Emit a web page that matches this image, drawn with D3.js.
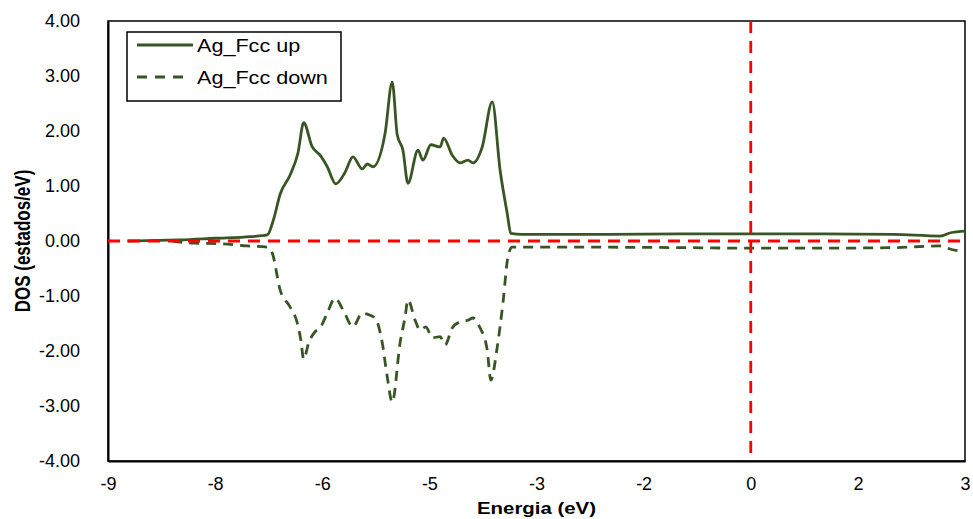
<!DOCTYPE html>
<html>
<head>
<meta charset="utf-8">
<script src="https://cdn.jsdelivr.net/npm/d3@7"></script>
<style>
  body { margin: 0; background: #fff; }
  text { font-family: "Liberation Sans", Arial, sans-serif; fill: #000; }
</style>
</head>
<body>
<div id="chart"></div>
<script>
const FRAME_WIDTH = 973;
const FRAME_HEIGHT = 519;
const MARGINS = {left: 108, right: 8, top: 21, bottom: 58};

const VIS_WIDTH = FRAME_WIDTH - MARGINS.left - MARGINS.right;
const VIS_HEIGHT = FRAME_HEIGHT - MARGINS.top - MARGINS.bottom;

// data
const upEnergy = [-8.73, -8.3, -8.0, -7.5, -7.0, -6.77, -6.68, -6.59, -6.45, -6.34, -6.26, -6.14, -6.03, -5.93, -5.81,
  -5.68, -5.57, -5.44, -5.37, -5.29, -5.12, -5.02, -4.95, -4.87, -4.80, -4.66, -4.59, -4.48, -4.35, -4.30, -4.18,
  -4.07, -3.96, -3.89, -3.76, -3.62, -3.51, -3.41, -3.36, -3.2, -2.0, -1.0, 0, 1.0, 2.0, 2.65, 2.8, 3.0];
const upDos = [0.00, 0.01, 0.02, 0.05, 0.08, 0.11, 0.40, 0.85, 1.20, 1.60, 2.15, 1.71, 1.56, 1.35, 1.04,
  1.25, 1.53, 1.31, 1.40, 1.35, 1.96, 2.89, 1.93, 1.65, 1.05, 1.65, 1.47, 1.75, 1.71, 1.87, 1.56,
  1.42, 1.47, 1.42, 1.71, 2.53, 1.29, 0.50, 0.14, 0.12, 0.12, 0.13, 0.13, 0.13, 0.12, 0.09, 0.15, 0.18];

const downEnergy = [-8.1, -7.8, -7.4, -7.05, -6.77, -6.70, -6.59, -6.45, -6.35, -6.30, -6.26, -6.19, -6.10, -6.03,
  -5.93, -5.82, -5.71, -5.57, -5.44, -5.37, -5.26, -5.16, -5.09, -5.02, -4.91, -4.84, -4.80, -4.70, -4.63,
  -4.55, -4.46, -4.35, -4.28, -4.18, -4.07, -3.96, -3.89, -3.79, -3.69, -3.64, -3.55, -3.47, -3.40, -3.34,
  -3.0, -1.0, 0, 1.0, 2.0, 2.65, 2.8, 3.0];
const downDos = [0.00, -0.04, -0.05, -0.09, -0.11, -0.22, -0.89, -1.20, -1.49, -1.80, -2.15, -1.85, -1.65, -1.58,
  -1.31, -1.04, -1.25, -1.56, -1.31, -1.33, -1.40, -1.85, -2.47, -2.93, -1.85, -1.38, -1.07, -1.44, -1.62,
  -1.56, -1.76, -1.74, -1.89, -1.58, -1.47, -1.44, -1.40, -1.58, -1.98, -2.53, -1.93, -1.13, -0.29, -0.11,
  -0.11, -0.12, -0.13, -0.13, -0.12, -0.09, -0.15, -0.20];

const seriesNames = ["Ag_Fcc up", "Ag_Fcc down"];

const xTicks = [-9, -7.5, -6, -4.5, -3, -1.5, 0, 1.5, 3];
const xTickLabels = ["-9", "-8", "-6", "-5", "-3", "-2", "0", "2", "3"];
const yTicks = [-4, -3, -2, -1, 0, 1, 2, 3, 4];

const GREEN = "#375623";
const RED = "#ff0000";

const FRAME = d3.select("#chart")
  .append("svg")
    .attr("width", FRAME_WIDTH)
    .attr("height", FRAME_HEIGHT);

const X_SCALE = d3.scaleLinear().domain([-9, 3]).range([0, VIS_WIDTH]);
const Y_SCALE = d3.scaleLinear().domain([-4, 4]).range([VIS_HEIGHT, 0]);

const PLOT = FRAME.append("g")
  .attr("transform", "translate(" + MARGINS.left + "," + MARGINS.top + ")");

// plot border
PLOT.append("rect")
  .attr("x", 0).attr("y", 0)
  .attr("width", VIS_WIDTH).attr("height", VIS_HEIGHT)
  .attr("fill", "none")
  .attr("stroke", "#000")
  .attr("stroke-width", 1.5);

// axes (plain hyphen for the minus sign, like the original)
const xAxis = PLOT.append("g")
  .attr("transform", "translate(0," + VIS_HEIGHT + ")")
  .call(d3.axisBottom(X_SCALE).tickValues(xTicks).tickSize(0).tickPadding(16)
    .tickFormat((d, i) => xTickLabels[i]));
xAxis.select(".domain").attr("stroke", "#000").attr("stroke-width", 2);
xAxis.selectAll("text").attr("font-size", "18px").attr("font-family", "Liberation Sans, Arial, sans-serif");

const yAxis = PLOT.append("g")
  .call(d3.axisLeft(Y_SCALE).tickValues(yTicks).tickSize(0).tickPadding(28)
    .tickFormat(d => d.toFixed(2)));
yAxis.select(".domain").attr("stroke", "#000").attr("stroke-width", 2);
yAxis.selectAll("text").attr("font-size", "18px").attr("font-family", "Liberation Sans, Arial, sans-serif");

// series
const line = d3.line()
  .x(d => X_SCALE(d[0]))
  .y(d => Y_SCALE(d[1]))
  .curve(d3.curveMonotoneX);

const upData = d3.zip(upEnergy, upDos);
const downData = d3.zip(downEnergy, downDos);

PLOT.append("path")
  .datum(upData)
  .attr("d", line)
  .attr("fill", "none")
  .attr("stroke", GREEN)
  .attr("stroke-width", 2.8);

PLOT.append("path")
  .datum(downData)
  .attr("d", line)
  .attr("fill", "none")
  .attr("stroke", GREEN)
  .attr("stroke-width", 2.8)
  .attr("stroke-dasharray", "10,7");

// red reference lines at 0
PLOT.append("line")
  .attr("x1", 0).attr("x2", VIS_WIDTH)
  .attr("y1", Y_SCALE(0)).attr("y2", Y_SCALE(0))
  .attr("stroke", RED).attr("stroke-width", 2.8)
  .attr("stroke-dasharray", "12,8");

PLOT.append("line")
  .attr("x1", X_SCALE(0)).attr("x2", X_SCALE(0))
  .attr("y1", 0).attr("y2", VIS_HEIGHT)
  .attr("stroke", RED).attr("stroke-width", 2.8)
  .attr("stroke-dasharray", "12,8");

// axis titles
FRAME.append("text")
  .attr("transform", "translate(" + (MARGINS.left + VIS_WIDTH / 2) + ",514) scale(1.2,1)")
  .attr("text-anchor", "middle")
  .attr("font-size", "17px")
  .attr("font-weight", "bold")
  .text("Energia (eV)");

FRAME.append("text")
  .attr("transform", "translate(30," + (MARGINS.top + VIS_HEIGHT / 2) + ") rotate(-90) scale(1,1.25)")
  .attr("text-anchor", "middle")
  .attr("font-size", "17px")
  .attr("font-weight", "bold")
  .text("DOS (estados/eV)");

// legend
const LEGEND = FRAME.append("g");
LEGEND.append("rect")
  .attr("x", 127).attr("y", 32)
  .attr("width", 214).attr("height", 69)
  .attr("fill", "#fff")
  .attr("stroke", "#000")
  .attr("stroke-width", 1.5);

seriesNames.forEach((name, i) => {
  const yy = 45 + i * 32;
  LEGEND.append("line")
    .attr("x1", 137).attr("x2", i === 1 ? 184 : 193)
    .attr("y1", yy).attr("y2", yy)
    .attr("stroke", GREEN)
    .attr("stroke-width", 2.8)
    .attr("stroke-dasharray", i === 1 ? "10,8" : null);
  LEGEND.append("text")
    .attr("transform", "translate(197," + (yy + 6.5) + ") scale(1.2,1)")
    .attr("font-size", "18px")
    .text(name);
});
</script>
</body>
</html>
